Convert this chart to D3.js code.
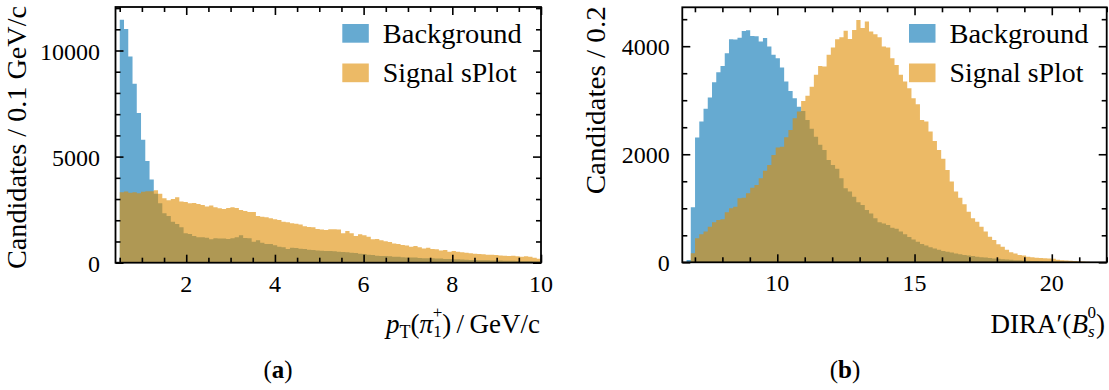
<!DOCTYPE html>
<html><head><meta charset="utf-8">
<script src="https://cdn.jsdelivr.net/npm/d3@7"></script>
<style>
body{margin:0;background:#fff}
svg{display:block}
text{font-family:"Liberation Serif","Times New Roman",serif;fill:#000}
</style>
</head><body>
<svg id="chart" width="1109" height="390"></svg>
<script>
// ---------- DATA ----------
const seriesNames = ["Background", "Signal sPlot"];
const seriesColors = ["#0072B2", "#DF8C00"];

// (a) pT(pi1+) histogram, 100 bins across ptRange
const ptRange = [0.405, 10];
const ptBackground = [0,11450,11010,9720,8430,7050,5790,4790,3920,3250,
 2800,2330,2200,1930,1825,1670,1385,1350,1260,1200,
 1195,1180,1100,1150,1135,1135,1115,1150,1195,1290,
 1165,1150,990,1055,945,880,880,820,755,725,
 645,705,690,660,645,615,600,580,565,550,
 550,540,520,505,495,470,460,420,410,370,
 360,330,315,315,300,285,280,260,250,245,
 240,220,215,205,205,200,195,175,170,165,
 160,145,140,125,125,120,118,110,108,105,
 100,95,92,90,85,80,78,75,70,65];
const ptSignal = [0,3320,3350,3300,3320,3270,3340,3370,3370,3420,
 3250,3040,2945,3005,3085,2880,2865,2800,2815,2770,
 2720,2645,2690,2610,2565,2535,2580,2610,2580,2485,
 2440,2390,2390,2205,2170,2140,2095,2045,2015,1935,
 1905,1855,1840,1795,1715,1685,1670,1590,1560,1545,
 1575,1575,1570,1385,1495,1385,1260,1340,1290,1225,
 1100,1120,1055,1010,975,910,880,835,805,755,
 785,725,675,710,645,630,580,600,520,550,
 520,490,470,440,425,410,395,380,378,362,
 345,330,315,330,300,285,300,285,235,190];
const ptXTicks = [2, 4, 6, 8, 10];
const ptYTicks = [0, 5000, 10000];
const ptYMax = 12050;

// (b) DIRA'(Bs0) histogram, 100 bins across diraRange
const diraRange = [6.54, 22.0];
const diraBackground = [0,43,1020,2310,2605,2840,3050,3335,3520,3635,
 3870,4130,4125,4155,4280,4295,4190,4185,4085,4150,
 3995,3840,3775,3605,3345,3170,3035,2880,2800,2635,
 2470,2325,2175,2080,1895,1800,1730,1555,1370,1310,
 1215,1110,1060,970,905,815,740,720,690,640,
 620,570,520,470,420,380,340,310,280,255,
 230,210,195,180,165,150,135,125,115,105,
 95,88,80,72,65,58,52,46,40,36,
 32,28,25,22,19,16,14,12,10,8,
 7,6,5,4,3,2,2,1,1,0];
const diraSignal = [0,0,167,445,520,570,660,740,785,795,
 925,1000,1030,1185,1195,1280,1380,1430,1555,1695,
 1800,1985,2125,2140,2315,2450,2665,2790,2985,3085,
 3250,3470,3635,3625,3840,3975,4130,4165,4285,4135,
 4300,4485,4335,4455,4270,4220,4165,3995,3975,3775,
 3650,3470,3345,3220,3035,2925,2635,2605,2420,2245,
 2080,1915,1710,1495,1310,1195,1075,935,815,750,
 660,570,475,415,335,290,230,185,165,135,
 125,105,95,85,80,75,70,65,45,40,
 35,30,25,20,15,10,5,3,0,0];
const diraXTicks = [10, 15, 20];
const diraYTicks = [0, 2000, 4000];
const diraYMax = 4720;

// ---------- LAYOUT ----------
const svg = d3.select("#chart");
const panels = [
  {bg: ptBackground, sig: ptSignal, range: ptRange, yMax: ptYMax,
   xTicks: ptXTicks, xMinorStep: 0.5, yTicks: ptYTicks, yMinorStep: 1000,
   left: 115.5, right: 541, top: 7, bottom: 262.7, yLabGap: 15.5,
   ylabel: "Candidates / 0.1 GeV/c", ylabLen: 263, ylabX: 26, tag: "a", tagX: 278,
   legX: 342.3},
  {bg: diraBackground, sig: diraSignal, range: diraRange, yMax: diraYMax,
   xTicks: diraXTicks, xMinorStep: 1, yTicks: diraYTicks, yMinorStep: 500,
   left: 682.3, right: 1106.7, top: 7.3, bottom: 262.3, yLabGap: 12.5,
   ylabel: "Candidates / 0.2", ylabLen: 188, ylabX: 605, tag: "b", tagX: 845,
   legX: 909}
];
const legendLens = [139, 134];

panels.forEach((p, pi) => {
  const x = d3.scaleLinear().domain(p.range).range([p.left, p.right]);
  const y = d3.scaleLinear().domain([0, p.yMax]).range([p.bottom, p.top]);
  const g = svg.append("g");
  const n = p.bg.length;
  const edges = d3.range(n + 1).map(i => p.range[0] + i * (p.range[1] - p.range[0]) / n);

  const area = d3.area()
    .x(d => x(d[0])).y0(y(0)).y1(d => y(d[1]))
    .curve(d3.curveStepAfter);

  [p.bg, p.sig].forEach((vals, si) => {
    const pts = edges.map((e, i) => [e, vals[Math.min(i, n - 1)]]);
    g.append("path").attr("d", area(pts))
      .attr("fill", seriesColors[si]).attr("fill-opacity", 0.6);
  });

  // ticks
  const eps = 1e-9;
  const xMinor = d3.range(Math.ceil(p.range[0] / p.xMinorStep) * p.xMinorStep, p.range[1] + eps, p.xMinorStep)
    .filter(v => !p.xTicks.some(t => Math.abs(t - v) < 1e-6));
  const yMinor = d3.range(0, p.yMax, p.yMinorStep)
    .filter(v => !p.yTicks.some(t => Math.abs(t - v) < 1e-6));

  const tickStyle = sel => {
    sel.select(".domain").remove();
    sel.selectAll("line").attr("stroke", "#000").attr("stroke-width", 1.6);
    sel.selectAll("text").remove();
  };
  const maj = 8, mnr = 5;
  g.append("g").attr("transform", `translate(0,${p.bottom})`)
    .call(d3.axisBottom(x).tickValues(p.xTicks).tickSize(-maj)).call(tickStyle);
  g.append("g").attr("transform", `translate(0,${p.bottom})`)
    .call(d3.axisBottom(x).tickValues(xMinor).tickSize(-mnr)).call(tickStyle);
  g.append("g").attr("transform", `translate(0,${p.top})`)
    .call(d3.axisTop(x).tickValues(p.xTicks).tickSize(-maj)).call(tickStyle);
  g.append("g").attr("transform", `translate(0,${p.top})`)
    .call(d3.axisTop(x).tickValues(xMinor).tickSize(-mnr)).call(tickStyle);
  g.append("g").attr("transform", `translate(${p.left},0)`)
    .call(d3.axisLeft(y).tickValues(p.yTicks).tickSize(-maj)).call(tickStyle);
  g.append("g").attr("transform", `translate(${p.left},0)`)
    .call(d3.axisLeft(y).tickValues(yMinor).tickSize(-mnr)).call(tickStyle);
  g.append("g").attr("transform", `translate(${p.right},0)`)
    .call(d3.axisRight(y).tickValues(p.yTicks).tickSize(-maj)).call(tickStyle);
  g.append("g").attr("transform", `translate(${p.right},0)`)
    .call(d3.axisRight(y).tickValues(yMinor).tickSize(-mnr)).call(tickStyle);

  // frame
  g.append("rect").attr("x", p.left).attr("y", p.top)
    .attr("width", p.right - p.left).attr("height", p.bottom - p.top)
    .attr("fill", "none").attr("stroke", "#000").attr("stroke-width", 1.8);

  // tick labels
  g.selectAll(".xl").data(p.xTicks).join("text")
    .attr("x", d => x(d)).attr("y", p.bottom + 29)
    .attr("text-anchor", "middle").attr("font-size", 24).text(d => d);
  g.selectAll(".yl").data(p.yTicks).join("text")
    .attr("x", p.left - p.yLabGap).attr("y", d => y(d) + 9)
    .attr("text-anchor", "end").attr("font-size", 24).text(d => d);

  // y label
  g.append("text")
    .attr("transform", `translate(${p.ylabX},${p.top - 1}) rotate(-90)`)
    .attr("text-anchor", "end").attr("font-size", 27)
    .attr("textLength", p.ylabLen).attr("lengthAdjust", "spacingAndGlyphs")
    .text(p.ylabel);

  // legend
  seriesNames.forEach((name, si) => {
    const ly = 24 + si * 39.5;
    g.append("rect").attr("x", p.legX).attr("y", ly).attr("width", 26.5).attr("height", 18.7)
      .attr("fill", seriesColors[si]).attr("fill-opacity", 0.6);
    g.append("text").attr("x", p.legX + 40.5).attr("y", ly + 18.5)
      .attr("font-size", 27.5)
      .attr("textLength", legendLens[si]).attr("lengthAdjust", "spacingAndGlyphs")
      .text(name);
  });

  // panel tag
  const t = g.append("text").attr("x", p.tagX).attr("y", 378)
    .attr("text-anchor", "middle").attr("font-size", 25);
  t.append("tspan").text("(");
  t.append("tspan").attr("font-weight", "bold").text(p.tag);
  t.append("tspan").text(")");
});

// x labels
const xl1 = svg.append("text").attr("x", 540).attr("y", 333)
  .attr("text-anchor", "end").attr("font-size", 27);
xl1.append("tspan").attr("font-style", "italic").text("p");
xl1.append("tspan").attr("font-size", 18).attr("dy", 5).text("T");
xl1.append("tspan").attr("dy", -5).text("(");
xl1.append("tspan").attr("font-style", "italic").text("π");
xl1.append("tspan").attr("font-size", 17).attr("dy", 4).text("1");
xl1.append("tspan").attr("font-size", 17).attr("dx", -9).attr("dy", -19).text("+");
xl1.append("tspan").attr("dy", 15).text(")\u2009/\u2009GeV/c");

const xl2 = svg.append("text").attr("x", 1105).attr("y", 333)
  .attr("text-anchor", "end").attr("font-size", 27);
xl2.append("tspan").text("DIRA\u2032(");
xl2.append("tspan").attr("font-style", "italic").text("B");
xl2.append("tspan").attr("font-style", "italic").attr("font-size", 17).attr("dy", 4).text("s");
xl2.append("tspan").attr("font-size", 17).attr("dx", -7).attr("dy", -19).text("0");
xl2.append("tspan").attr("dy", 15).text(")");
</script>
</body></html>
